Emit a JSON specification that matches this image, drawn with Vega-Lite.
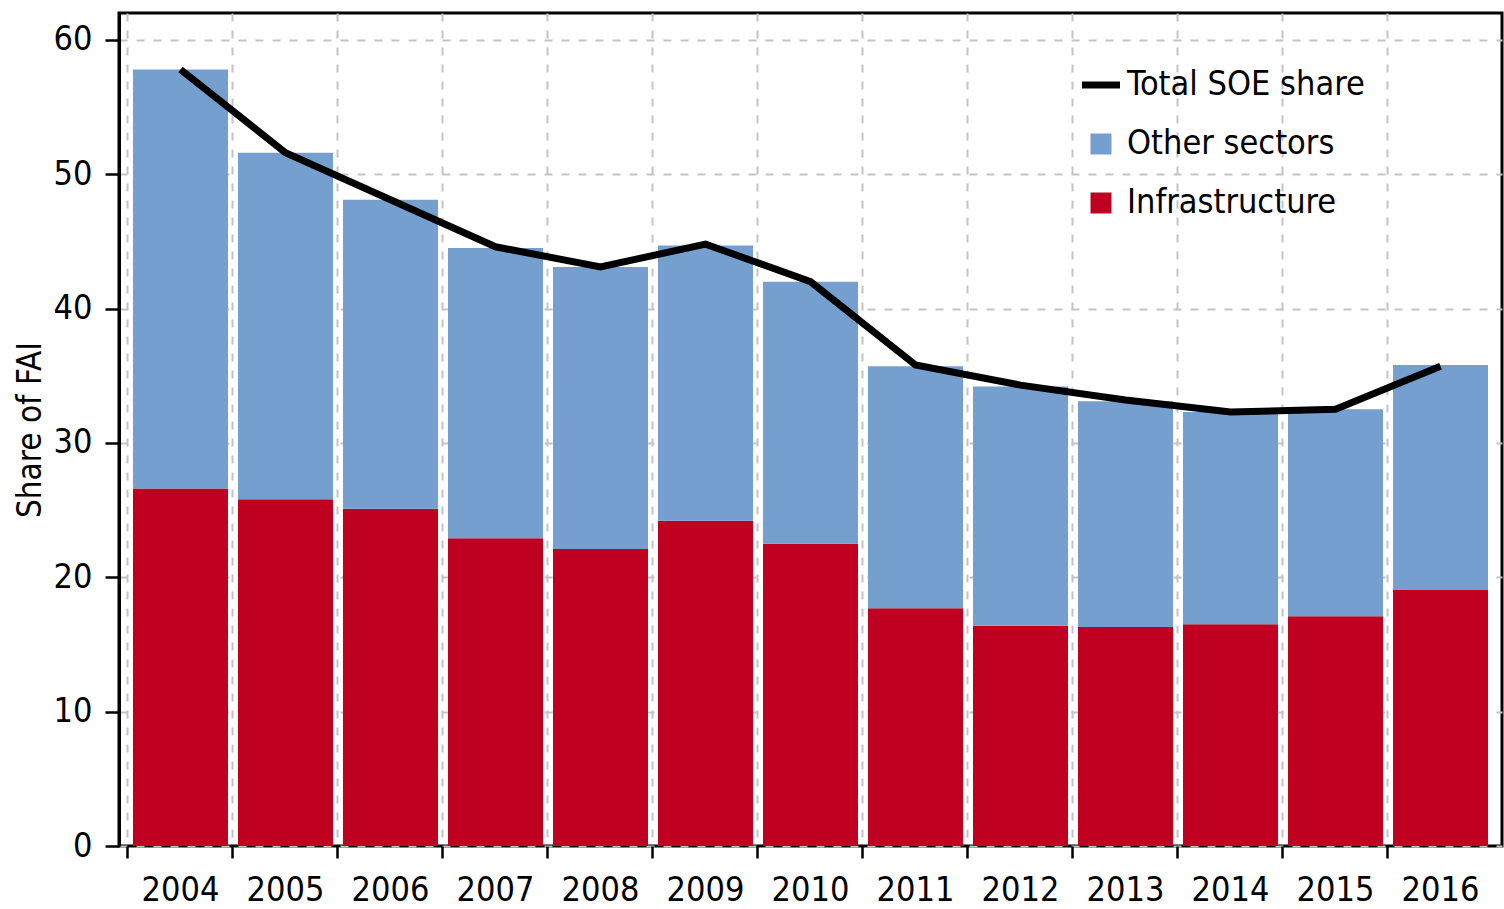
{
  "$schema": "https://vega.github.io/schema/vega-lite/v6.json",
  "width": 1383,
  "height": 833,
  "autosize": {"type": "none"},
  "padding": {"left": 119, "top": 13, "right": 2, "bottom": 63},
  "background": "white",
  "config": {
    "view": {"stroke": "black", "strokeWidth": 3},
    "font": "DejaVu Sans Condensed, sans-serif",
    "axis": {
      "labelFont": "DejaVu Sans Condensed, sans-serif",
      "titleFont": "DejaVu Sans Condensed, sans-serif",
      "labelColor": "black",
      "titleColor": "black",
      "domainColor": "black",
      "tickColor": "black",
      "gridColor": "#c4c4c4",
      "gridDash": [8, 9],
      "gridWidth": 2
    }
  },
  "datasets": {
    "bars": [
      {"year": "2004", "sector": "Infrastructure", "value": 26.6},
      {"year": "2004", "sector": "Other sectors", "value": 31.2},
      {"year": "2005", "sector": "Infrastructure", "value": 25.8},
      {"year": "2005", "sector": "Other sectors", "value": 25.8},
      {"year": "2006", "sector": "Infrastructure", "value": 25.1},
      {"year": "2006", "sector": "Other sectors", "value": 23.0},
      {"year": "2007", "sector": "Infrastructure", "value": 22.9},
      {"year": "2007", "sector": "Other sectors", "value": 21.6},
      {"year": "2008", "sector": "Infrastructure", "value": 22.1},
      {"year": "2008", "sector": "Other sectors", "value": 21.0},
      {"year": "2009", "sector": "Infrastructure", "value": 24.2},
      {"year": "2009", "sector": "Other sectors", "value": 20.5},
      {"year": "2010", "sector": "Infrastructure", "value": 22.5},
      {"year": "2010", "sector": "Other sectors", "value": 19.5},
      {"year": "2011", "sector": "Infrastructure", "value": 17.7},
      {"year": "2011", "sector": "Other sectors", "value": 18.0},
      {"year": "2012", "sector": "Infrastructure", "value": 16.4},
      {"year": "2012", "sector": "Other sectors", "value": 17.8},
      {"year": "2013", "sector": "Infrastructure", "value": 16.3},
      {"year": "2013", "sector": "Other sectors", "value": 16.8},
      {"year": "2014", "sector": "Infrastructure", "value": 16.5},
      {"year": "2014", "sector": "Other sectors", "value": 15.8},
      {"year": "2015", "sector": "Infrastructure", "value": 17.1},
      {"year": "2015", "sector": "Other sectors", "value": 15.4},
      {"year": "2016", "sector": "Infrastructure", "value": 19.1},
      {"year": "2016", "sector": "Other sectors", "value": 16.7}
    ],
    "total": [
      {"year": "2004", "total": 57.8},
      {"year": "2005", "total": 51.6},
      {"year": "2006", "total": 48.1},
      {"year": "2007", "total": 44.6},
      {"year": "2008", "total": 43.1},
      {"year": "2009", "total": 44.8},
      {"year": "2010", "total": 42.0},
      {"year": "2011", "total": 35.8},
      {"year": "2012", "total": 34.3},
      {"year": "2013", "total": 33.2},
      {"year": "2014", "total": 32.3},
      {"year": "2015", "total": 32.5},
      {"year": "2016", "total": 35.7}
    ]
  },
  "encoding": {
    "x": {
      "field": "year",
      "type": "ordinal",
      "scale": {"paddingInner": 0.095, "paddingOuter": 0.133},
      "axis": {
        "title": null,
        "labelAngle": 0,
        "labelFontSize": 34,
        "labelPadding": 15,
        "tickSize": 12,
        "tickWidth": 2.5,
        "domain": false,
        "grid": true,
        "bandPosition": -0.058
      }
    }
  },
  "layer": [
    {
      "data": {"name": "bars"},
      "mark": {"type": "bar"},
      "encoding": {
        "y": {
          "field": "value",
          "type": "quantitative",
          "stack": "zero",
          "scale": {"domain": [0, 62], "nice": false},
          "axis": {
            "title": "Share of FAI",
            "titleFontSize": 33,
            "titleFontWeight": "normal",
            "titlePadding": 6,
            "values": [0, 10, 20, 30, 40, 50, 60],
            "labelFontSize": 34,
            "labelPadding": 13,
            "tickSize": 14,
            "tickWidth": 2.5,
            "domainWidth": 3,
            "grid": true
          }
        },
        "color": {
          "field": "sector",
          "type": "nominal",
          "scale": {
            "domain": ["Total SOE share", "Other sectors", "Infrastructure"],
            "range": ["#000000", "#749fcf", "#c00020"]
          },
          "legend": {
            "orient": "none",
            "legendX": 965,
            "legendY": 55,
            "title": null,
            "labelFontSize": 34,
            "labelColor": "black",
            "labelFont": "DejaVu Sans Condensed, sans-serif",
            "labelLimit": 600,
            "labelOffset": 9,
            "rowPadding": 25,
            "symbolSize": 1444,
            "symbolType": "square",
            "encode": {
              "symbols": {
                "update": {
                  "shape": {"signal": "datum.value === 'Total SOE share' ? 'stroke' : 'square'"},
                  "size": {"signal": "datum.value === 'Total SOE share' ? 1444 : 441"},
                  "strokeWidth": {"signal": "datum.value === 'Total SOE share' ? 7 : 0"},
                  "stroke": {"signal": "scale('color', datum.value)"},
                  "fill": {"signal": "scale('color', datum.value)"},
                  "opacity": {"value": 1}
                }
              }
            }
          }
        },
        "order": {"field": "sector", "sort": "ascending"}
      }
    },
    {
      "data": {"name": "total"},
      "mark": {"type": "line", "strokeWidth": 7, "strokeCap": "butt", "strokeJoin": "miter"},
      "encoding": {
        "y": {"field": "total", "type": "quantitative"},
        "color": {"datum": "Total SOE share"}
      }
    }
  ]
}
